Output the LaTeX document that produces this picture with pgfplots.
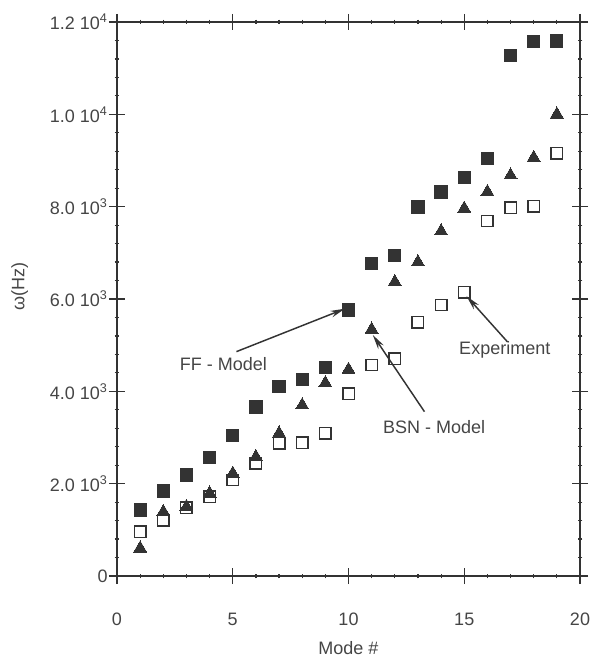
\documentclass[border=0pt]{standalone}
\usepackage{pgfplots}
\pgfplotsset{compat=1.18}
\usepackage{fontspec}
\setmainfont{Liberation Sans}
\usetikzlibrary{arrows.meta}
\definecolor{ink}{rgb}{0.2,0.2,0.2}
\definecolor{txt}{rgb}{0.27,0.27,0.27}
\newcommand{\tf}{\fontsize{13.5pt}{16pt}\selectfont}
\begin{document}
\begin{tikzpicture}
\begin{axis}[
  scale only axis,
  width=347.25pt, height=415.5pt,
  xmin=0, xmax=20, ymin=0, ymax=12000,
  xtick={0,5,10,15,20},
  ytick={0,2000,4000,6000,8000,10000,12000},
  yticklabels={0,2.0 10\textsuperscript{3},4.0 10\textsuperscript{3},6.0 10\textsuperscript{3},8.0 10\textsuperscript{3},1.0 10\textsuperscript{4},1.2 10\textsuperscript{4}},
  scaled y ticks=false,
  minor x tick num=4, minor y tick num=4,
  tick align=center,
  major tick length=12pt, minor tick length=3.5pt,
  every tick/.style={ink, line width=0.9pt},
  axis line style={ink, line width=1.1pt},
  /pgf/number format/assume math mode=true,
  tick label style={font=\tf, txt},
  xticklabel style={yshift=-18pt},
  yticklabel style={xshift=2.5pt},
  label style={font=\tf, txt},
  xlabel={Mode \#},
  ylabel={ω(Hz)},
  xlabel style={at={(axis description cs:0.5,-0.13)}, anchor=center},
  ylabel style={at={(axis description cs:-0.21,0.522)}, anchor=center},
  clip=false,
]
\addplot[only marks, mark=square, mark size=4.3pt, ink, mark options={line width=1.1pt, fill=white}] coordinates {
(1,960)(2,1210)(3,1480)(4,1720)(5,2080)(6,2440)(7,2870)(8,2890)(9,3090)(10,3950)
(11,4570)(12,4710)(13,5500)(14,5870)(15,6150)(16,7690)(17,7980)(18,8010)(19,9160)};
\addplot[only marks, mark=triangle*, mark size=5.6pt, ink, mark options={line width=0pt}] coordinates {
(1,600)(2,1390)(3,1500)(4,1790)(5,2220)(6,2580)(7,3090)(8,3700)(9,4180)(10,4470)
(11,5340)(12,6370)(13,6800)(14,7470)(15,7960)(16,8320)(17,8680)(18,9060)(19,10000)};
\addplot[only marks, mark=square*, mark size=4.6pt, ink, mark options={line width=0pt}] coordinates {
(1,1430)(2,1840)(3,2190)(4,2570)(5,3050)(6,3660)(7,4110)(8,4260)(9,4520)(10,5760)
(11,6770)(12,6950)(13,7990)(14,8320)(15,8630)(16,9040)(17,11280)(18,11570)(19,11590)};
\node[font=\tf, txt] at (axis cs:4.6,4600) {FF - Model};
\node[font=\tf, txt] at (axis cs:13.7,3230) {BSN - Model};
\node[font=\tf, txt] at (axis cs:16.75,4890) {Experiment};
\draw[ink, line width=1.1pt, -{Stealth[length=11pt,width=5pt]}] (axis cs:5.16,4860) -- (axis cs:9.85,5790);
\draw[ink, line width=1.1pt, -{Stealth[length=11pt,width=5pt]}] (axis cs:13.28,3560) -- (axis cs:11.05,5220);
\draw[ink, line width=1.1pt, -{Stealth[length=11pt,width=5pt]}] (axis cs:16.87,5070) -- (axis cs:15.1,6060);
\coordinate (sw) at (rel axis cs:0,0);
\coordinate (ne) at (rel axis cs:1,1);
\end{axis}
\pgfresetboundingbox
\path ([shift={(-87.75pt,-62.25pt)}]sw) rectangle ([shift={(10.5pt,16.5pt)}]ne);
\end{tikzpicture}
\end{document}
